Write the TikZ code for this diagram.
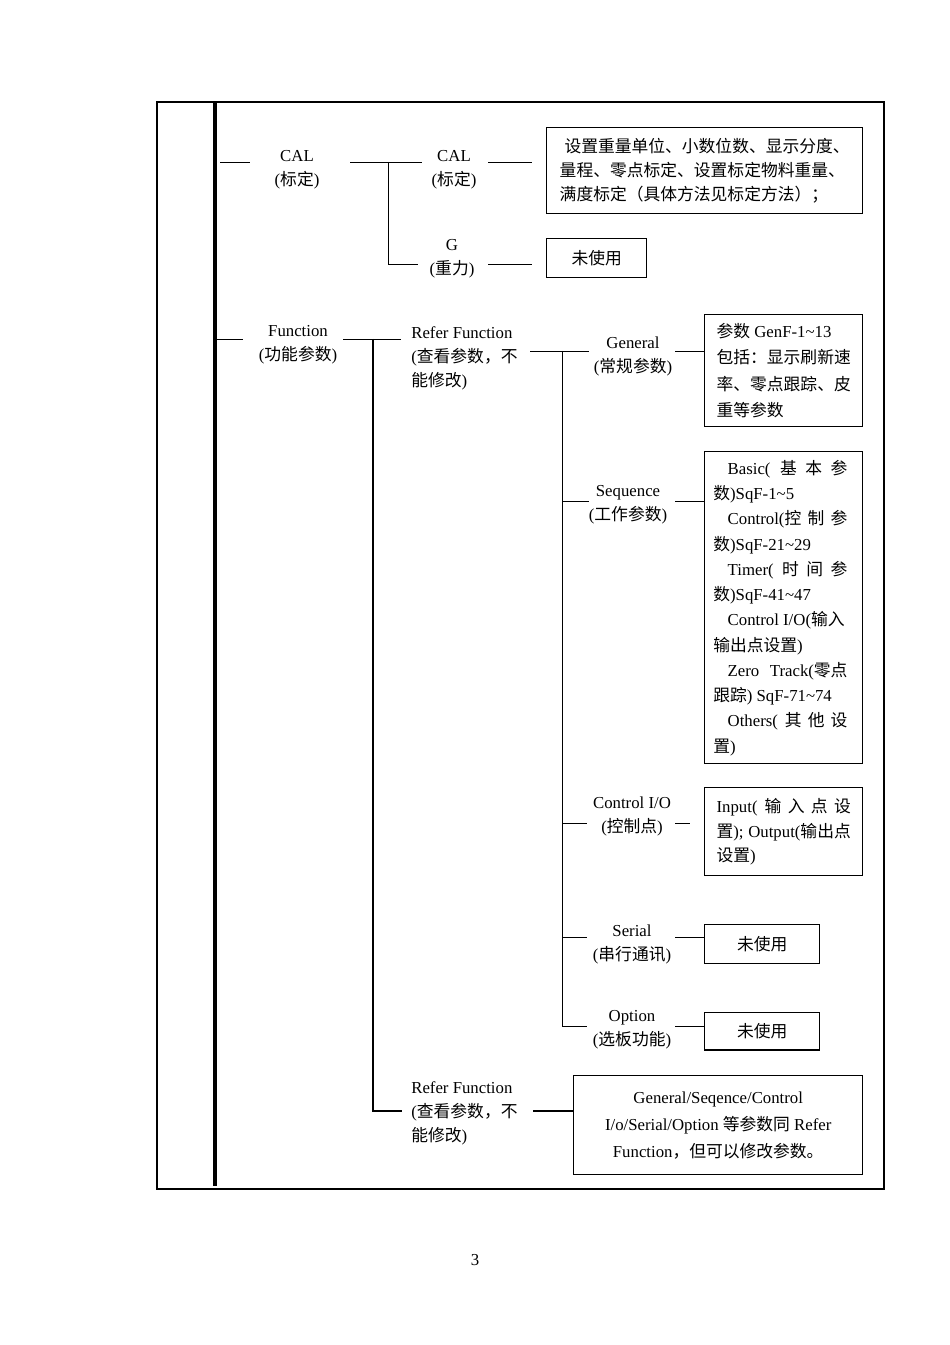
\documentclass[tikz,border=0pt]{standalone}
\usepackage{fontspec}
\setmainfont{Liberation Serif}
\newfontfamily\cjk{Noto Sans CJK SC}
\newcommand\zh[1]{{\cjk #1}}
\newcommand\fsz{\fontsize{10.5}{15}\selectfont}
\newcommand\jl[1]{\makebox[84pt][s]{#1}}
\newcommand\tld{\textasciitilde}
\tikzset{
  lbl/.style={align=center, inner sep=0pt, font=\fsz},
  lbll/.style={align=left, inner sep=0pt, font=\fsz, anchor=west},
  boxnode/.style={draw, line width=0.9pt, inner sep=0pt, font=\fsz, anchor=north west},
  conn/.style={line width=0.6pt},
  spine/.style={line width=1.9pt},
  frame/.style={line width=0.8pt}
}
\begin{document}
\begin{tikzpicture}[x=0.626pt, y=-0.626pt]
\useasboundingbox (0,0) rectangle (950,1345);
% frame
\coordinate (fTL) at (157,102);
\coordinate (fBR) at (884,1189);
\draw[frame] (fTL) rectangle (fBR);
\coordinate (sTop) at (215,102);
\coordinate (sBot) at (215,1186);
\draw[spine] (sTop) -- (sBot);

% labels
\node[lbl] (cal1) at (297,170) {CAL\\(\zh{标定})};
\node[lbl] (cal2) at (454,170) {CAL\\(\zh{标定})};
\node[lbl] (grav) at (452,259) {G\\(\zh{重力})};
\node[lbl] (func) at (298,345) {Function\\(\zh{功能参数})};
\node[lbll] (ref1) at (411,358) {Refer Function\\(\zh{查看参数，不}\\\zh{能修改})};
\node[lbl] (gen) at (633,356) {General\\(\zh{常规参数})};
\node[lbl] (seq) at (628,505) {Sequence\\(\zh{工作参数})};
\node[lbl] (cio) at (632,816) {Control I/O\\(\zh{控制点})};
\node[lbl] (ser) at (632,944) {Serial\\(\zh{串行通讯})};
\node[lbl] (opt) at (632,1030) {Option\\(\zh{选板功能})};
\node[lbll] (ref2) at (411,1113) {Refer Function\\(\zh{查看参数，不}\\\zh{能修改})};

% boxes
\node[boxnode, minimum width=197.8pt, minimum height=53.8pt, align=left] (b1) at (546,127)
  {\hspace*{3pt}\zh{设置重量单位、小数位数、显示分度、}\\\zh{量程、零点标定、设置标定物料重量、}\\\zh{满度标定（具体方法见标定方法）；}};
\node[boxnode, minimum width=62.6pt, minimum height=24.4pt] (b2) at (546,238) {\zh{未使用}};
\node[boxnode, minimum width=98.9pt, minimum height=70.1pt, align=left,
  font=\fontsize{10.5}{16.6}\selectfont] (b3) at (704,314)
  {\zh{参数} GenF-1\tld13\\\zh{包括：显示刷新速}\\\zh{率、零点跟踪、皮}\\\zh{重等参数}};
\node[boxnode, minimum width=98.9pt, minimum height=195.3pt] (b4) at (704,451) {};
\node[lbl, align=left, anchor=north west, font=\fontsize{10.5}{15.8}\selectfont] (b4t) at (713,460)
  {\jl{\hspace*{9pt}Basic( \zh{基 本 参}}\\
   \zh{数})SqF-1\tld5\\
   \jl{\hspace*{9pt}Control(\zh{控 制 参}}\\
   \zh{数})SqF-21\tld29\\
   \jl{\hspace*{9pt}Timer( \zh{时 间 参}}\\
   \zh{数})SqF-41\tld47\\
   \hspace*{9pt}Control I/O(\zh{输入}\\
   \zh{输出点设置})\\
   \jl{\hspace*{9pt}Zero Track(\zh{零点}}\\
   \zh{跟踪}) SqF-71\tld74\\
   \jl{\hspace*{9pt}Others( \zh{其 他 设}}\\
   \zh{置})};
\node[boxnode, minimum width=98.9pt, minimum height=55.1pt, align=left,
  font=\fontsize{10.5}{15.6}\selectfont] (b5) at (704,787)
  {\jl{Input( \zh{输 入 点 设}}\\\jl{\zh{置}); Output(\zh{输出点}}\\\zh{设置})};
\node[boxnode, minimum width=72pt, minimum height=24.4pt] (b6) at (704,924) {\zh{未使用}};
\node[boxnode, minimum width=72pt, minimum height=23.2pt] (b7) at (704,1012) {\zh{未使用}};
\node[boxnode, minimum width=180.9pt, minimum height=62pt, align=center,
  font=\fontsize{10.5}{16.8}\selectfont] (b8) at (573,1075)
  {General/Seqence/Control\\I/o/Serial/Option \zh{等参数同} Refer\\Function\zh{，但可以修改参数。}};

% connectors
\coordinate (c1a) at (220,162); \coordinate (c1b) at (250,162);
\draw[conn] (c1a) -- (c1b);
\coordinate (c2a) at (350,162); \coordinate (c2b) at (422,162);
\draw[conn] (c2a) -- (c2b);
\coordinate (c3a) at (388,162); \coordinate (c3b) at (418,264);
\draw[conn] (c3a) |- (c3b);
\coordinate (c4a) at (488,162); \coordinate (c4b) at (532,162);
\draw[conn] (c4a) -- (c4b);
\coordinate (c5a) at (488,264); \coordinate (c5b) at (532,264);
\draw[conn] (c5a) -- (c5b);
\coordinate (c6a) at (217,339); \coordinate (c6b) at (243,339);
\draw[conn] (c6a) -- (c6b);
\coordinate (c7a) at (343,339); \coordinate (c7b) at (401,339);
\draw[conn] (c7a) -- (c7b);
\coordinate (c8a) at (373,339); \coordinate (c8b) at (402,1111);
\draw[conn, line width=1pt] (c8a) |- (c8b);
\coordinate (c9a) at (530,351); \coordinate (c9b) at (589,351);
\draw[conn] (c9a) -- (c9b);
\coordinate (c10a) at (562,351); \coordinate (c10b) at (587,1026);
\draw[conn] (c10a) |- (c10b);
\coordinate (g1) at (675,351);
\draw[conn] (g1) -- (g1 -| b3.west);
\coordinate (s1) at (562,501); \coordinate (s2) at (589,501);
\draw[conn] (s1) -- (s2);
\coordinate (s3) at (675,501);
\draw[conn] (s3) -- (s3 -| b4.west);
\coordinate (i1) at (562,823); \coordinate (i2) at (587,823);
\draw[conn] (i1) -- (i2);
\coordinate (i3) at (675,823); \coordinate (i4) at (690,823);
\draw[conn] (i3) -- (i4);
\coordinate (r1) at (562,937); \coordinate (r2) at (587,937);
\draw[conn] (r1) -- (r2);
\coordinate (r3) at (675,937);
\draw[conn] (r3) -- (r3 -| b6.west);
\coordinate (o3) at (675,1026);
\draw[conn] (o3) -- (o3 -| b7.west);
\coordinate (f1) at (533,1111);
\draw[conn, line width=1pt] (f1) -- (f1 -| b8.west);

% page number
\node[lbl] (pg) at (475,1260) {3};
\end{tikzpicture}
\end{document}
